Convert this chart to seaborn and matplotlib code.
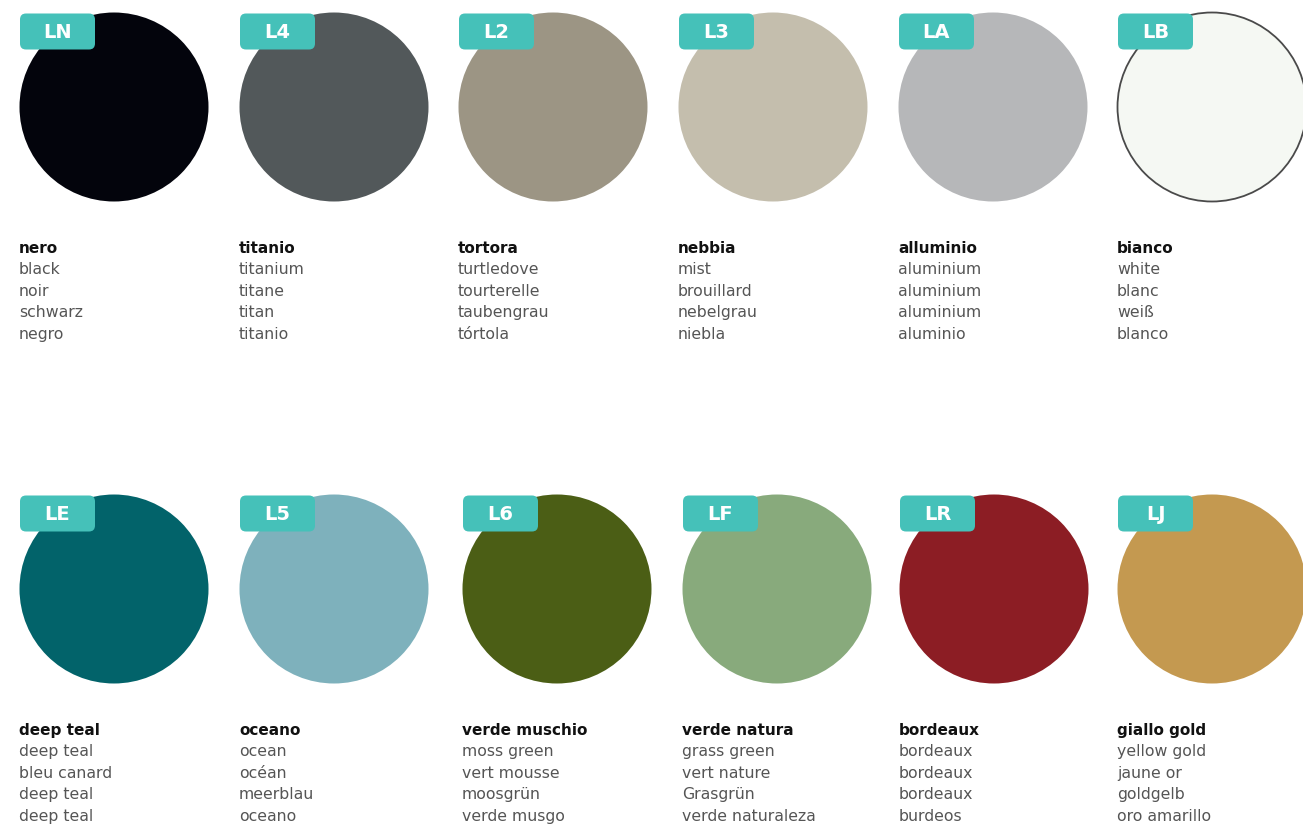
"""
Colour swatch card: twelve finishes, each with a code badge,
the Italian name in bold and four translations below.
"""
import pandas as pd
import seaborn as sns
import matplotlib.pyplot as plt
from matplotlib.patches import FancyBboxPatch


"""
1. Data
"""
codes = ['LN', 'L4', 'L2', 'L3', 'LA', 'LB',
         'LE', 'L5', 'L6', 'LF', 'LR', 'LJ']
swatch_colors = ['#03040c', '#52585a', '#9c9584', '#c4bead', '#b6b7b9', '#f5f8f3',
                 '#02636a', '#7eb1bc', '#4b5e15', '#88aa7c', '#8c1d24', '#c49950']
names_it = ['nero', 'titanio', 'tortora', 'nebbia', 'alluminio', 'bianco',
            'deep teal', 'oceano', 'verde muschio', 'verde natura', 'bordeaux', 'giallo gold']
names_en = ['black', 'titanium', 'turtledove', 'mist', 'aluminium', 'white',
            'deep teal', 'ocean', 'moss green', 'grass green', 'bordeaux', 'yellow gold']
names_fr = ['noir', 'titane', 'tourterelle', 'brouillard', 'aluminium', 'blanc',
            'bleu canard', 'océan', 'vert mousse', 'vert nature', 'bordeaux', 'jaune or']
names_de = ['schwarz', 'titan', 'taubengrau', 'nebelgrau', 'aluminium', 'weiß',
            'deep teal', 'meerblau', 'moosgrün', 'Grasgrün', 'bordeaux', 'goldgelb']
names_es = ['negro', 'titanio', 'tórtola', 'niebla', 'aluminio', 'blanco',
            'deep teal', 'oceano', 'verde musgo', 'verde naturaleza', 'burdeos', 'oro amarillo']
outlined = ['LB']

"""
2. Layout (pixel units, figure is 1303 x 830)
"""
W, H = 1303, 830
col_x = [114, 334, 553, 773, 993, 1212,
         114, 334, 557, 777, 994, 1212]
row_y = [107] * 6 + [589] * 6
radius = 94.5
badge_color = '#45c1b9'

df = pd.DataFrame({'code': codes, 'x': col_x, 'y': row_y})

sns.set_theme(style='white')
plt.rcParams['font.family'] = ['DejaVu Sans']

fig = plt.figure(figsize=(W / 100, H / 100), dpi=100)
ax = fig.add_axes([0, 0, 1, 1])
ax.set_xlim(0, W)
ax.set_ylim(H, 0)

marker_size = (2 * radius * 72 / 100) ** 2
sns.scatterplot(data=df, x='x', y='y', hue='code',
                palette=dict(zip(codes, swatch_colors)),
                s=marker_size, linewidth=0, legend=False, ax=ax, zorder=2)
sns.scatterplot(data=df[df['code'].isin(outlined)], x='x', y='y',
                s=marker_size, facecolor='none', edgecolor='#4a4a4a',
                linewidth=1.3, legend=False, ax=ax, zorder=3)

for i, row in df.iterrows():
    cx, cy = row['x'], row['y']
    left = cx - 94
    top = cy - radius + 1
    ax.add_patch(FancyBboxPatch((left, top), 75, 36,
                                boxstyle='round,pad=0,rounding_size=6',
                                facecolor=badge_color, edgecolor='none', zorder=4))
    ax.text(left + 37.5, top + 18.5, row['code'], color='white',
            fontsize=14, fontweight='bold', ha='center', va='center', zorder=5)

    tx = cx - 95
    ty = cy + 141.5
    ax.text(tx, ty, names_it[i], fontsize=11, fontweight='bold',
            color='#111111', ha='left', va='center')
    for k, label in enumerate([names_en[i], names_fr[i], names_de[i], names_es[i]]):
        ax.text(tx, ty + 21.4 * (k + 1), label, fontsize=11.3,
                color='#555555', ha='left', va='center')

ax.set_axis_off()
fig.savefig('out.png', dpi=100)
